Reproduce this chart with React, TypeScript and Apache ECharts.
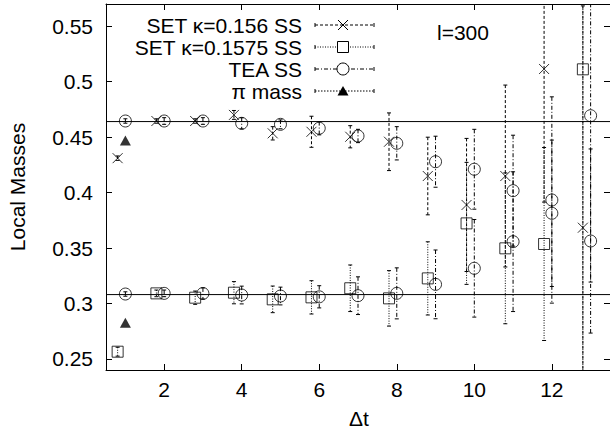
import React, { useEffect, useRef } from "react";
import * as echarts from "echarts";

// ---- data ----
const setX = [0.8, 1.8, 2.8, 3.8, 4.8, 5.8, 6.8, 7.8, 8.8, 9.8, 10.8, 11.8, 12.8];
const teaX = [1, 2, 3, 4, 5, 6, 7, 8, 9, 10, 11, 12, 13];

const set156Mass = [0.431, 0.4645, 0.4645, 0.47, 0.4534, 0.4548, 0.4503, 0.4458, 0.4149, 0.3888, 0.4149, 0.5114, 0.3683];
const set156Err = [0.002, 0.002, 0.002, 0.004, 0.006, 0.014, 0.01, 0.026, 0.035, 0.06, 0.082, 0.12, 0.2];

const set1575Mass = [0.2565, 0.3091, 0.3052, 0.3097, 0.3037, 0.3055, 0.3137, 0.3046, 0.3226, 0.3722, 0.3497, 0.3536, 0.5111];
const set1575Err = [0.004, 0.003, 0.006, 0.01, 0.012, 0.015, 0.021, 0.025, 0.033, 0.055, 0.068, 0.087, 0.3];

const teaUpperMass = [0.4645, 0.4645, 0.4645, 0.4624, 0.4615, 0.458, 0.451, 0.4444, 0.4278, 0.421, 0.4017, 0.3933, 0.4693];
const teaUpperErr = [0.002, 0.003, 0.003, 0.005, 0.004, 0.006, 0.006, 0.015, 0.023, 0.036, 0.05, 0.093, 0.15];

const teaLowerMass = [0.3085, 0.3091, 0.309, 0.3076, 0.3067, 0.306, 0.307, 0.3091, 0.3172, 0.3317, 0.3557, 0.3813, 0.3563];
const teaLowerErr = [0.002, 0.003, 0.005, 0.008, 0.008, 0.01, 0.017, 0.023, 0.031, 0.044, 0.063, 0.066, 0.083];

const piX = [1, 1];
const piMass = [0.447, 0.2826];

const referenceLines = [0.464, 0.308];

const xTicks = [2, 4, 6, 8, 10, 12];
const yTicks = [0.25, 0.3, 0.35, 0.4, 0.45, 0.5, 0.55];
const xRange = [0.5, 13.5];
const yRange = [0.24, 0.57];

const legendNames = ["SET κ=0.156 SS", "SET κ=0.1575 SS", "TEA SS", "π mass"];
const annotation = "l=300";

// ---- styles ----
const FONT = "Liberation Sans, Arial, Helvetica, sans-serif";
const FS = 21;
const DASH_SET156 = [3, 2];
const DASH_SET1575 = [1, 1.5];
const DASH_TEA = [4, 2, 1, 2];
const DASH_PI = [1.5, 1.5];
const CROSS = "path://M0 0L10 10M10 0L0 10";

function errorSeries(xs: number[], ys: number[], es: number[], dash: number[]) {
  return {
    type: "custom",
    clip: true,
    silent: true,
    data: xs.map((x, i) => [x, ys[i], es[i]]),
    renderItem: (params: any, api: any) => {
      const x = api.value(0);
      const y = api.value(1);
      const e = api.value(2);
      const t = api.coord([x, y + e]);
      const b = api.coord([x, y - e]);
      const cw = 2;
      return {
        type: "group",
        children: [
          { type: "line", shape: { x1: t[0], y1: t[1], x2: b[0], y2: b[1] }, style: { stroke: "#000", lineWidth: 1, lineDash: dash } },
          { type: "line", shape: { x1: t[0] - cw, y1: t[1], x2: t[0] + cw, y2: t[1] }, style: { stroke: "#000", lineWidth: 1 } },
          { type: "line", shape: { x1: b[0] - cw, y1: b[1], x2: b[0] + cw, y2: b[1] }, style: { stroke: "#000", lineWidth: 1 } },
        ],
      };
    },
  };
}

function markerSeries(name: string, xs: number[], ys: number[], symbol: string, size: any, filled: boolean) {
  return {
    type: "scatter",
    name,
    symbol,
    symbolSize: size,
    silent: true,
    data: xs.map((x, i) => [x, ys[i]]),
    itemStyle: filled
      ? { color: "#000", borderWidth: 0 }
      : { color: "rgba(0,0,0,0)", borderColor: "#000", borderWidth: 1 },
    z: 3,
  };
}

function legendGraphics() {
  const rows = [25, 47, 69, 91];
  const textX = 302;
  const lx1 = 315;
  const lx2 = 374;
  const mx = 343;
  const dashes = [DASH_SET156, DASH_SET1575, DASH_TEA, DASH_PI];
  const els: any[] = [];
  rows.forEach((y, i) => {
    els.push({
      type: "text",
      x: textX,
      y,
      style: { text: legendNames[i], font: `${FS}px ${FONT}`, fill: "#000", textAlign: "right", textVerticalAlign: "middle" },
    });
    els.push({ type: "line", shape: { x1: lx1, y1: y, x2: lx2, y2: y }, style: { stroke: "#000", lineWidth: 1, lineDash: dashes[i] } });
    els.push({ type: "line", shape: { x1: lx1, y1: y - 2, x2: lx1, y2: y + 2 }, style: { stroke: "#000", lineWidth: 1 } });
    els.push({ type: "line", shape: { x1: lx2, y1: y - 2, x2: lx2, y2: y + 2 }, style: { stroke: "#000", lineWidth: 1 } });
  });
  const r0 = rows[0];
  els.push({ type: "line", shape: { x1: mx - 5, y1: r0 - 5, x2: mx + 5, y2: r0 + 5 }, style: { stroke: "#000", lineWidth: 1 } });
  els.push({ type: "line", shape: { x1: mx - 5, y1: r0 + 5, x2: mx + 5, y2: r0 - 5 }, style: { stroke: "#000", lineWidth: 1 } });
  const r1 = rows[1];
  els.push({ type: "rect", shape: { x: mx - 5.5, y: r1 - 5.5, width: 11, height: 11 }, style: { fill: "#fff", stroke: "#000", lineWidth: 1 } });
  const r2 = rows[2];
  els.push({ type: "circle", shape: { cx: mx, cy: r2, r: 6 }, style: { fill: "#fff", stroke: "#000", lineWidth: 1 } });
  const r3 = rows[3];
  els.push({ type: "polygon", shape: { points: [[mx, r3 - 5], [mx + 5.5, r3 + 4.5], [mx - 5.5, r3 + 4.5]] }, style: { fill: "#000" } });
  return els;
}

export default function App() {
  const ref = useRef<HTMLDivElement>(null);
  useEffect(() => {
    if (!ref.current) return;
    const chart = echarts.init(ref.current, undefined, { renderer: "svg" });
    const axisCommon = {
      type: "value",
      axisLine: { show: true, onZero: false, lineStyle: { color: "#000", width: 1 } },
      splitLine: { show: false },
    };
    const option: any = {
      animation: false,
      backgroundColor: "#fff",
      grid: { left: 106, top: 4, width: 505, height: 366, containLabel: false },
      xAxis: [
        {
          ...axisCommon,
          position: "bottom",
          min: xRange[0],
          max: xRange[1],
          axisTick: { show: true, inside: true, length: 6, customValues: xTicks, lineStyle: { color: "#000" } },
          axisLabel: { show: true, customValues: xTicks, margin: 9, color: "#000", fontSize: FS, fontFamily: FONT },
        },
        {
          ...axisCommon,
          position: "top",
          min: xRange[0],
          max: xRange[1],
          axisTick: { show: true, inside: true, length: 6, customValues: xTicks, lineStyle: { color: "#000" } },
          axisLabel: { show: false },
        },
      ],
      yAxis: [
        {
          ...axisCommon,
          position: "left",
          min: yRange[0],
          max: yRange[1],
          axisTick: { show: true, inside: true, length: 6, customValues: yTicks, lineStyle: { color: "#000" } },
          axisLabel: { show: true, customValues: yTicks, margin: 13, color: "#000", fontSize: FS, fontFamily: FONT },
        },
        {
          ...axisCommon,
          position: "right",
          min: yRange[0],
          max: yRange[1],
          axisTick: { show: true, inside: true, length: 6, customValues: yTicks, lineStyle: { color: "#000" } },
          axisLabel: { show: false },
        },
      ],
      series: [
        ...referenceLines.map((v) => ({
          type: "line",
          silent: true,
          symbol: "none",
          data: [[xRange[0], v], [xRange[1], v]],
          lineStyle: { color: "#000", width: 1 },
          z: 1,
        })),
        errorSeries(setX, set156Mass, set156Err, DASH_SET156),
        errorSeries(setX, set1575Mass, set1575Err, DASH_SET1575),
        errorSeries(teaX, teaUpperMass, teaUpperErr, DASH_TEA),
        errorSeries(teaX, teaLowerMass, teaLowerErr, DASH_TEA),
        markerSeries(legendNames[0], setX, set156Mass, CROSS, 10, false),
        markerSeries(legendNames[1], setX, set1575Mass, "rect", 11, false),
        markerSeries(legendNames[2], teaX, teaUpperMass, "circle", 12, false),
        markerSeries(legendNames[2], teaX, teaLowerMass, "circle", 12, false),
        markerSeries(legendNames[3], piX, piMass, "triangle", [11, 10], true),
      ],
      graphic: [
        ...legendGraphics(),
        {
          type: "text",
          x: 437,
          y: 32,
          style: { text: annotation, font: `${FS}px ${FONT}`, fill: "#000", textVerticalAlign: "middle" },
        },
        {
          type: "text",
          x: 17,
          y: 187,
          rotation: Math.PI / 2,
          style: { text: "Local Masses", font: `${FS}px ${FONT}`, fill: "#000", textAlign: "center", textVerticalAlign: "middle" },
        },
        {
          type: "text",
          x: 359,
          y: 418,
          style: { text: "Δt", font: `${FS}px ${FONT}`, fill: "#000", textAlign: "center", textVerticalAlign: "middle" },
        },
      ],
    };
    chart.setOption(option);
    return () => chart.dispose();
  }, []);
  return <div ref={ref} style={{ position: "fixed", left: 0, top: 0, width: 610, height: 439 }} />;
}
